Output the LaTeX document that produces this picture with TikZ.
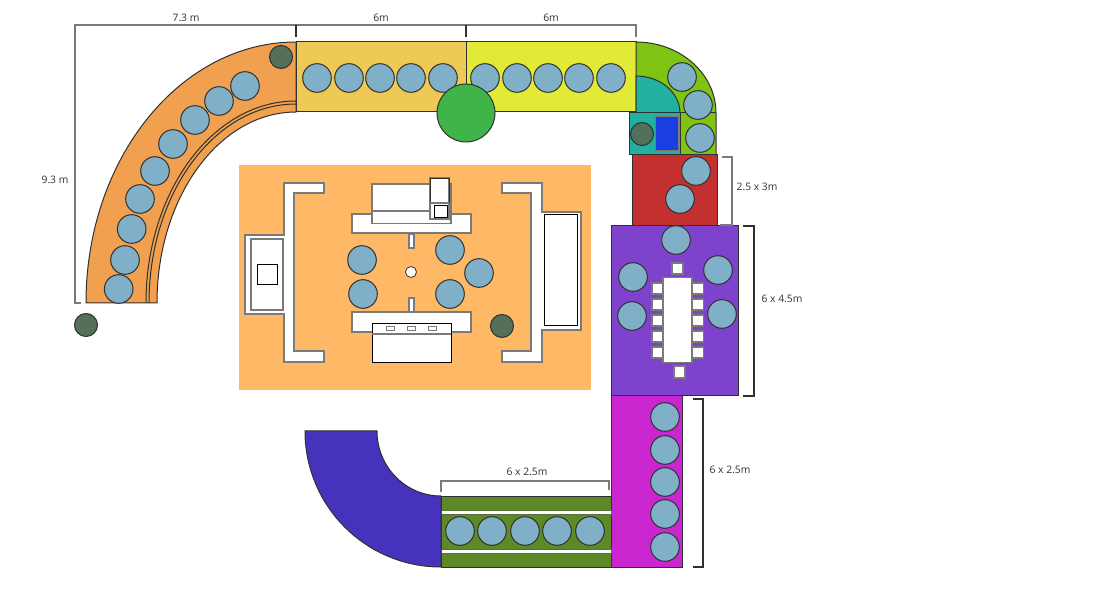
\documentclass[tikz,border=0pt]{standalone}
\usepackage{fontspec}
\setmainfont{Open Sans}
\definecolor{seat}{HTML}{7FB0C8}
\definecolor{plant}{HTML}{53705A}
\definecolor{edgeg}{HTML}{7A7A7A}
\definecolor{ink}{HTML}{303030}
\definecolor{stripe}{HTML}{58703C}
\tikzset{
  seat/.style={draw=ink,line width=1pt,fill=seat},
  plant/.style={draw=ink,line width=1pt,fill=plant},
  zone/.style={draw=ink,line width=1pt},
  furn/.style={draw=edgeg,line width=1.2pt,fill=white},
  furnb/.style={draw=black,line width=0.9pt,fill=white},
  dim/.style={draw=edgeg,line width=1.3pt},
  dimk/.style={draw=ink,line width=1.1pt},
  lab/.style={font=\fontsize{10.3pt}{12pt}\selectfont,text=ink,inner sep=0pt}
}
\newcommand{\Seat}[2]{\draw[seat] (#1,#2) circle[radius=14.3];}
\newcommand{\Plant}[2]{\draw[plant] (#1,#2) circle[radius=11.5];}
\begin{document}
\begin{tikzpicture}[x=1pt,y=-1pt]
\useasboundingbox (0,0) rectangle (1096,612);
% orange curved bed
\draw[zone,fill={rgb,255:red,240;green,160;blue,79}] (86,303) arc[start angle=180,end angle=270,x radius=210,y radius=261] -- (296,112) arc[start angle=270,end angle=180,x radius=139,y radius=191] -- cycle;
\draw[zone] (146,303) arc[start angle=180,end angle=270,x radius=150,y radius=202];
\draw[zone] (149,303) arc[start angle=180,end angle=270,x radius=147,y radius=199];
\Seat{118.7}{289}\Seat{125}{260}\Seat{131.7}{229}\Seat{140}{199}\Seat{155}{171}\Seat{173}{144}\Seat{195}{120}\Seat{219}{101}\Seat{245}{86}
\Plant{281}{57}\Plant{86}{325}
% straight beds
\draw[zone,fill={rgb,255:red,238;green,201;blue,85}] (296,42) rectangle (466,112);
\draw[zone,fill={rgb,255:red,226;green,234;blue,55}] (466,42) rectangle (636,112);
\Seat{317}{78}\Seat{349}{78}\Seat{380}{78}\Seat{411}{78}\Seat{443}{78}
\Seat{485}{78}\Seat{517}{78}\Seat{548}{78}\Seat{579}{78}\Seat{611}{78}
\draw[zone,fill={rgb,255:red,63;green,181;blue,73}] (466,113) circle[radius=29];
% corner
\draw[zone,fill={rgb,255:red,127;green,196;blue,18}] (636,42) arc[start angle=90,end angle=0,x radius=80,y radius=-71] -- (716,155) -- (680,155) -- (680,113) -- (636,113) -- cycle;
\draw[zone] (680,113) -- (716,113);
\draw[zone,fill={rgb,255:red,34;green,176;blue,160}] (636,76) arc[start angle=90,end angle=0,x radius=44,y radius=-37] -- (636,113) -- cycle;
\draw[zone,fill={rgb,255:red,34;green,176;blue,160}] (629,113) rectangle (680,155);
\draw[draw=edgeg,line width=1pt,fill={rgb,255:red,26;green,63;blue,224}] (655,117) rectangle (678,151);
\Plant{642}{134}
\Seat{682}{77}\Seat{698}{105}\Seat{700}{138}
% red
\draw[zone,fill={rgb,255:red,196;green,48;blue,48}] (632,155) rectangle (717,226);
\Seat{696}{171}\Seat{680}{199}
% purple
\draw[zone,fill={rgb,255:red,127;green,66;blue,204}] (611,226) rectangle (738,396);
\Seat{676}{240}\Seat{633}{277}\Seat{718}{270}\Seat{632}{316}\Seat{722}{314}
\draw[furn] (663,277.5) rectangle (692,362.5);
\foreach \yy in {283,299,315,331,347}{
  \draw[furn] (652,\yy) rectangle (663,\yy+11);
  \draw[furn] (692,\yy) rectangle (703.5,\yy+11);
}
\draw[furn] (672,263) rectangle (683,274);
\draw[furn] (674,366) rectangle (685,378);
% magenta
\draw[zone,fill={rgb,255:red,201;green,38;blue,208}] (611,396) rectangle (682,567);
\Seat{665}{417}\Seat{665}{450}\Seat{665}{482}\Seat{665}{514}\Seat{665}{547}
% olive
\draw[zone,fill={rgb,255:red,93;green,138;blue,39}] (441,496) rectangle (611,567);
\draw[draw=stripe,line width=1pt,fill=white] (441,510.5) rectangle (611,514.5);
\draw[draw=stripe,line width=1pt,fill=white] (441,549.5) rectangle (611,553.5);
\Seat{460}{531}\Seat{492}{531}\Seat{525}{531}\Seat{557}{531}\Seat{590}{531}
% indigo
\draw[zone,fill={rgb,255:red,69;green,51;blue,190}] (305,431) -- (377,431) arc[start angle=180,end angle=90,x radius=64,y radius=65] -- (441,567) arc[start angle=90,end angle=180,x radius=136,y radius=136] -- cycle;
% central pavilion
\fill[fill={rgb,255:red,255;green,184;blue,102}] (239,165) rectangle (591,390);
\draw[furn] (284,183) -- (324,183) -- (324,193) -- (294,193) -- (294,351) -- (324,351) -- (324,362) -- (284,362) -- (284,314) -- (245,314) -- (245,235) -- (284,235) -- cycle;
\draw[draw=edgeg,line width=1.2pt] (251,239) rectangle (283,310);
\draw[furnb] (257,264) rectangle (277,284);
\draw[furn] (502,183) -- (542,183) -- (542,212) -- (581,212) -- (581,330) -- (542,330) -- (542,362) -- (502,362) -- (502,351) -- (531,351) -- (531,193) -- (502,193) -- cycle;
\draw[furnb] (544,214) rectangle (577,325);
\draw[furn] (352,214) rectangle (471,233);
\draw[furn] (372,184) rectangle (451,223.5);
\draw[draw=edgeg,line width=1.3pt] (372,211) -- (451,211);
\draw[furn] (430,178) rectangle (449,219);
\draw[draw=ink,line width=0.9pt] (430,203) -- (430,178) -- (449,178) -- (449,203);
\draw[draw=edgeg,line width=1.3pt] (430,203) -- (449,203);
\draw[furnb] (434,205.5) rectangle (447,217);
\draw[furn] (409,234) rectangle (414,248);
\draw[furn] (409,298) rectangle (414,312);
\draw[draw=ink,line width=0.8pt,fill=white] (411,272) circle[radius=5.5];
\draw[furn] (352,312) rectangle (471,332);
\draw[furnb] (372,323) rectangle (451,362);
\draw[draw=edgeg,line width=1.2pt] (372,334) -- (451,334);
\draw[draw=edgeg,line width=1pt,fill=white] (386,327) rectangle (394,331);
\draw[draw=edgeg,line width=1pt,fill=white] (407,327) rectangle (415,331);
\draw[draw=edgeg,line width=1pt,fill=white] (428,327) rectangle (436,331);
\Seat{362}{260}\Seat{363}{294}\Seat{450}{250}\Seat{479}{273}\Seat{450}{294}
\Plant{502}{326}
% dimensions
\draw[dim] (81,303) -- (75,303) -- (75,25) -- (636,25) -- (636,37);
\draw[dimk] (296,25) -- (296,37);
\draw[dimk] (466,25) -- (466,37);
\draw[dim] (722,157) -- (732,157) -- (732,225) -- (720,225);
\draw[dimk] (743,226) -- (754,226) -- (754,396) -- (743,396);
\draw[dimk] (693,399) -- (703,399) -- (703,567) -- (693,567);
\draw[dim] (441,492) -- (441,481) -- (609,481) -- (609,490);
\node[lab] (l73) at (186,17.5) {7.3 m};
\node[lab] (l6a) at (381,17.5) {6m};
\node[lab] (l6b) at (551,17.5) {6m};
\node[lab] (l93) at (55,179.5) {9.3 m};
\node[lab] (l253) at (757,186.5) {2.5 x 3m};
\node[lab] (l645) at (782,298.5) {6 x 4.5m};
\node[lab] (l625a) at (730,469.5) {6 x 2.5m};
\node[lab] (l625b) at (527,471.5) {6 x 2.5m};
\end{tikzpicture}
\end{document}
